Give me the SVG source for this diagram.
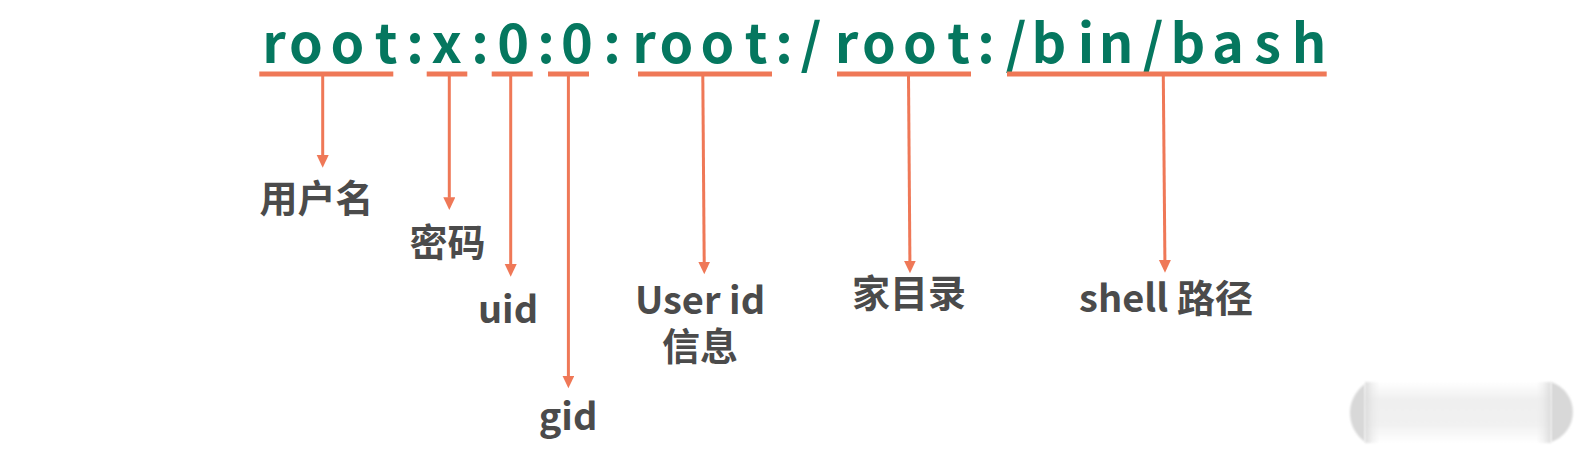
<svg xmlns="http://www.w3.org/2000/svg" width="1596" height="465" viewBox="0 0 1596 465">
  <style>
    .rec { font-family: "Noto Sans CJK SC", "Noto Sans", sans-serif; font-weight: 700; font-size: 54px; fill: #05775f; text-anchor: middle; }
    .lbl { font-family: "Noto Sans CJK SC", "Noto Sans", sans-serif; font-weight: 700; font-size: 38px; fill: #4b4b4b; text-anchor: middle; }
    .ul { stroke: #ef7857; stroke-width: 5; fill: none; }
    .ln { stroke: #ef7857; stroke-width: 3; fill: none; marker-end: url(#ah); }
  </style>
  <defs>
    <marker id="ah" markerUnits="userSpaceOnUse" markerWidth="14" markerHeight="13" refX="0.5" refY="6" orient="auto">
      <path d="M0,0 L12.7,6 L0,12 z" fill="#ef7857"/>
    </marker>
    <linearGradient id="pv" x1="0" y1="0" x2="0" y2="1">
      <stop offset="0" stop-color="#ffffff"/>
      <stop offset="0.3" stop-color="#efefef"/>
      <stop offset="0.7" stop-color="#f1f1f1"/>
      <stop offset="1" stop-color="#ffffff"/>
    </linearGradient>
    <linearGradient id="ph" x1="0" y1="0" x2="1" y2="0">
      <stop offset="0" stop-color="#d9d9d9" stop-opacity="0.9"/>
      <stop offset="0.08" stop-color="#eeeeee" stop-opacity="0"/>
      <stop offset="0.92" stop-color="#eeeeee" stop-opacity="0"/>
      <stop offset="1" stop-color="#d9d9d9" stop-opacity="0.9"/>
    </linearGradient>
    <filter id="soft" x="-10%" y="-20%" width="120%" height="140%">
      <feGaussianBlur stdDeviation="1.2"/>
    </filter>
  </defs>

  <g id="record">
    <text class="rec" y="63" x="274 306 347.5 386 415 446.7 480 513.3 546 577 612 644 676.5 717.5 756 784 811 846.6 879 920 958.5 986 1016 1049 1086 1116 1153 1188 1228 1267.5 1309">root:x:0:0:root:/root:/bin/bash</text>
  </g>

  <g id="connectors">
    <line class="ul" x1="259.3" y1="74" x2="393.3" y2="74"/>
    <line class="ul" x1="426.7" y1="74" x2="467.3" y2="74"/>
    <line class="ul" x1="491.7" y1="74" x2="532.7" y2="74"/>
    <line class="ul" x1="548" y1="74" x2="589" y2="74"/>
    <line class="ul" x1="638" y1="74" x2="772" y2="74"/>
    <line class="ul" x1="837" y1="74" x2="971" y2="74"/>
    <line class="ul" x1="1007" y1="74" x2="1326.7" y2="74"/>

    <line class="ln" x1="322.7" y1="76" x2="322.7" y2="155.5"/>
    <line class="ln" x1="449.3" y1="76" x2="449.3" y2="197.8"/>
    <line class="ln" x1="510.7" y1="76" x2="510.7" y2="264.5"/>
    <line class="ln" x1="568.4" y1="76" x2="568.4" y2="376.1"/>
    <line class="ln" x1="702.8" y1="76" x2="704.2" y2="262.1"/>
    <line class="ln" x1="908.5" y1="76" x2="909.9" y2="261.1"/>
    <line class="ln" x1="1163.3" y1="76" x2="1164.9" y2="260.5"/>
  </g>

  <g id="node-username"><text class="lbl" x="316.5" y="212.3">用户名</text></g>
  <g id="node-password"><text class="lbl" x="447.5" y="255.5">密码</text></g>
  <g id="node-uid"><text class="lbl" x="508" y="322.7">uid</text></g>
  <g id="node-gid"><text class="lbl" x="568" y="430">gid</text></g>
  <g id="node-userinfo">
    <text class="lbl" x="700" y="314">User id</text>
    <text class="lbl" x="700" y="359.5">信息</text>
  </g>
  <g id="node-home"><text class="lbl" x="909" y="307.3">家目录</text></g>
  <g id="node-shell"><text class="lbl" x="1166" y="311.7">shell 路径</text></g>

  <g id="pill">
    <path d="M1365,384 A35.5,35.5 0 0 0 1365,442 Z" fill="#d8d8d8" filter="url(#soft)"/>
    <path d="M1551,382 A31.5,31.5 0 0 1 1551,442 Z" fill="#d8d8d8" filter="url(#soft)"/>
    <rect x="1365" y="382" width="186" height="61" fill="url(#pv)" filter="url(#soft)"/>
    <rect x="1365" y="382" width="186" height="61" fill="url(#ph)" filter="url(#soft)"/>
  </g>
</svg>
